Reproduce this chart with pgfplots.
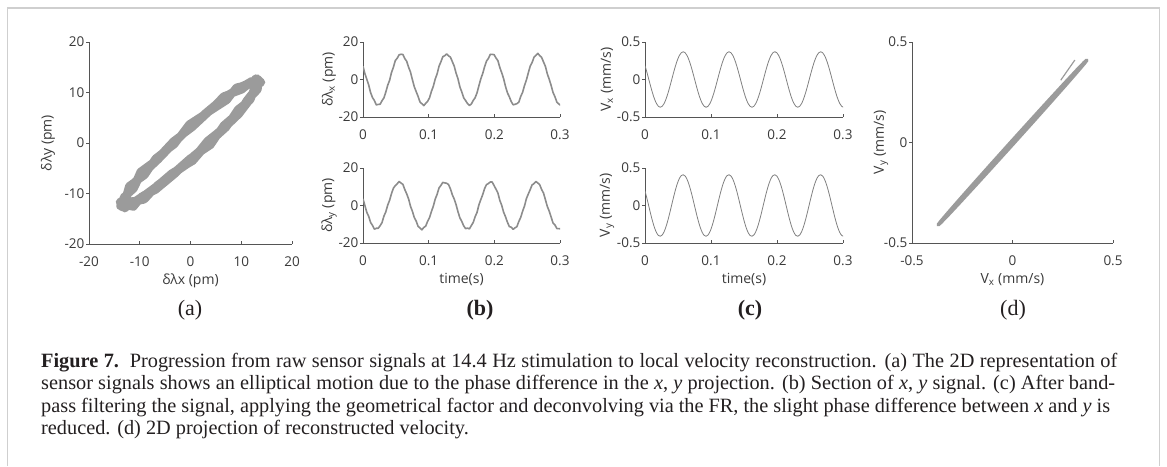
\documentclass[border=0pt]{standalone}
\usepackage{pgfplots}
\pgfplotsset{compat=1.18}
\usepackage{pgfplotstable}
\usepackage{fontspec}
\setmainfont{Liberation Serif}
\newfontfamily\axfont{Open Sans}
\definecolor{axgray}{HTML}{555555}
\definecolor{txtgray}{HTML}{3A3A3A}
\definecolor{datgray}{HTML}{9B9B9B}
\definecolor{framegray}{HTML}{CFCFCF}
\definecolor{captxt}{HTML}{231F20}

\pgfplotstableread{
t dx dy vx vy
0.000000 7.05 3.54 0.1850 0.1957
0.002894 3.09 -0.05 0.0958 0.0958
0.005787 0.15 -3.64 0.0000 -0.0107
0.008681 -2.99 -5.80 -0.0958 -0.1164
0.011574 -7.00 -9.09 -0.1850 -0.2143
0.014468 -9.65 -10.63 -0.2616 -0.2975
0.017361 -11.24 -12.62 -0.3204 -0.3605
0.020255 -13.54 -12.15 -0.3574 -0.3988
0.023148 -13.30 -12.17 -0.3700 -0.4100
0.026042 -13.19 -10.78 -0.3574 -0.3932
0.028935 -11.34 -9.14 -0.3204 -0.3497
0.031829 -9.85 -5.70 -0.2616 -0.2823
0.034722 -6.70 -3.39 -0.1850 -0.1957
0.037616 -3.09 0.20 -0.0958 -0.0958
0.040509 -0.45 2.79 0.0000 0.0107
0.043403 3.74 6.35 0.0958 0.1164
0.046296 6.55 9.24 0.1850 0.2143
0.049190 10.10 10.58 0.2616 0.2975
0.052083 11.34 11.57 0.3204 0.3605
0.054977 13.14 12.80 0.3574 0.3988
0.057870 13.45 11.97 0.3700 0.4100
0.060764 13.34 11.28 0.3574 0.3932
0.063657 11.14 8.49 0.3204 0.3497
0.066551 9.70 6.20 0.2616 0.2823
0.069444 6.55 3.49 0.1850 0.1957
0.072338 3.94 -0.40 0.0958 0.0958
0.075231 -0.10 -3.09 0.0000 -0.0107
0.078125 -3.89 -6.45 -0.0958 -0.1164
0.081018 -6.50 -8.34 -0.1850 -0.2143
0.083912 -9.05 -11.13 -0.2616 -0.2975
0.086805 -11.99 -11.97 -0.3204 -0.3605
0.089699 -12.94 -12.95 -0.3574 -0.3988
0.092592 -13.95 -11.72 -0.3700 -0.4100
0.095486 -12.69 -10.98 -0.3574 -0.3932
0.098379 -11.64 -8.44 -0.3204 -0.3497
0.101273 -9.80 -6.50 -0.2616 -0.2823
0.104166 -6.35 -3.24 -0.1850 -0.1957
0.107060 -3.64 -0.40 -0.0958 -0.0958
0.109953 0.20 3.39 0.0000 0.0107
0.112847 2.99 5.95 0.0958 0.1164
0.115740 7.05 9.34 0.1850 0.2143
0.118634 9.45 10.73 0.2616 0.2975
0.121527 12.14 12.32 0.3204 0.3605
0.124421 12.69 12.05 0.3574 0.3988
0.127314 13.65 11.87 0.3700 0.4100
0.130208 12.64 11.18 0.3574 0.3932
0.133101 11.94 8.89 0.3204 0.3497
0.135995 9.55 5.75 0.2616 0.2823
0.138889 7.15 3.44 0.1850 0.1957
0.141783 3.34 0.40 0.0958 0.0958
0.144676 0.30 -3.39 0.0000 -0.0107
0.147570 -3.99 -6.60 -0.0958 -0.1164
0.150463 -6.65 -8.54 -0.1850 -0.2143
0.153357 -9.80 -10.88 -0.2616 -0.2975
0.156250 -11.24 -12.32 -0.3204 -0.3605
0.159144 -12.84 -12.05 -0.3574 -0.3988
0.162037 -13.85 -12.47 -0.3700 -0.4100
0.164931 -13.09 -10.73 -0.3574 -0.3932
0.167824 -11.19 -9.04 -0.3204 -0.3497
0.170718 -9.75 -6.00 -0.2616 -0.2823
0.173611 -7.15 -3.74 -0.1850 -0.1957
0.176505 -3.34 0.35 -0.0958 -0.0958
0.179398 0.35 3.14 0.0000 0.0107
0.182292 3.19 5.80 0.0958 0.1164
0.185185 6.80 9.04 0.1850 0.2143
0.188079 9.80 11.13 0.2616 0.2975
0.190972 11.24 11.72 0.3204 0.3605
0.193866 13.44 12.55 0.3574 0.3988
0.196759 13.40 12.52 0.3700 0.4100
0.199653 13.24 10.58 0.3574 0.3932
0.202546 11.44 8.69 0.3204 0.3497
0.205440 10.05 6.65 0.2616 0.2823
0.208333 6.40 2.74 0.1850 0.1957
0.211227 3.59 0.10 0.0958 0.0958
0.214120 0.45 -3.54 0.0000 -0.0107
0.217014 -3.69 -6.00 -0.0958 -0.1164
0.219907 -7.05 -8.89 -0.1850 -0.2143
0.222801 -9.20 -11.23 -0.2616 -0.2975
0.225694 -11.74 -11.57 -0.3204 -0.3605
0.228588 -13.49 -12.70 -0.3574 -0.3988
0.231481 -13.25 -11.92 -0.3700 -0.4100
0.234375 -12.89 -11.28 -0.3574 -0.3932
0.237268 -12.09 -8.54 -0.3204 -0.3497
0.240162 -9.05 -6.35 -0.2616 -0.2823
0.243055 -6.85 -3.04 -0.1850 -0.1957
0.245949 -3.19 -0.25 -0.0958 -0.0958
0.248842 -0.25 3.69 0.0000 0.0107
0.251736 3.54 6.15 0.0958 0.1164
0.254629 7.15 8.49 0.1850 0.2143
0.257523 9.05 10.98 0.2616 0.2975
0.260416 11.89 11.67 0.3204 0.3605
0.263310 12.89 12.80 0.3574 0.3988
0.266203 13.95 12.02 0.3700 0.4100
0.269097 12.74 11.08 0.3574 0.3932
0.271990 11.79 8.54 0.3204 0.3497
0.274884 9.35 6.65 0.2616 0.2823
0.277778 7.00 3.09 0.1850 0.1957
0.280672 3.04 -0.50 0.0958 0.0958
0.283565 0.10 -2.99 0.0000 -0.0107
0.286459 -3.14 -6.15 -0.0958 -0.1164
0.289352 -6.90 -9.29 -0.1850 -0.2143
0.292246 -9.15 -10.33 -0.2616 -0.2975
0.295139 -11.99 -12.27 -0.3204 -0.3605
0.298033 -12.99 -12.35 -0.3574 -0.3988
0.300926 -13.75 -12.42 -0.3700 -0.4100
}\sig

\pgfplotsset{
  panel/.style={
    scale only axis,
    axis lines=left,
    axis line style={-, axgray, line width=0.8pt},
    tick align=inside,
    major tick length=3pt,
    tick style={axgray, line width=0.8pt},
    ytick style={xshift=-3pt},
    enlargelimits=false,
    clip=true,
    tick label style={font=\axfont\fontsize{13.5}{15}\selectfont, text=txtgray},
    label style={font=\axfont\fontsize{14}{16}\selectfont, text=txtgray},
    xticklabel style={anchor=center, yshift=-17.5pt},
    yticklabel style={anchor=east, inner sep=0pt, xshift=-4.5pt},
    xlabel style={anchor=center},
    ylabel style={anchor=center},
  },
  tsig/.style={
    xmin=0, xmax=0.3,
    xtick={0,0.1,0.2,0.3}, xticklabels={0,0.1,0.2,0.3},
  },
}

\begin{document}
\begin{tikzpicture}[x=1pt,y=1pt]
\useasboundingbox (0,0) rectangle (1167,466);
\draw[framegray, line width=1.5pt] (7.5,0) -- (7.5,458) -- (1159.5,458) -- (1159.5,0);

% (a)
\begin{axis}[panel, at={(89pt,222pt)}, anchor=south west, width=203pt, height=202pt,
  xmin=-20, xmax=20, ymin=-20, ymax=20,
  xtick={-20,-10,0,10,20}, xticklabels={-20,-10,0,10,20},
  ytick={-20,-10,0,10,20}, yticklabels={-20,-10,0,10,20},
  xlabel={δλx (pm)}, ylabel={δλy (pm)},
  xlabel style={at={(axis description cs:0.5,-0.1807)}},
  ylabel style={at={(axis description cs:-0.2020,0.5)}}]
\addplot[color=datgray, line width=8pt, line join=round, line cap=round] table[x=dx, y=dy] {\sig};
\end{axis}

% (b) top
\begin{axis}[panel, tsig, at={(363pt,349pt)}, anchor=south west, width=197pt, height=75pt,
  ymin=-20, ymax=20, ytick={-20,0,20}, yticklabels={-20,0,20},
  ylabel={δλ\textsubscript{x} (pm)},
  ylabel style={at={(axis description cs:-0.1726,0.5)}}]
\addplot[color=black!45, line width=1.6pt, line join=round] table[x=t, y=dx] {\sig};
\end{axis}
% (b) bottom
\begin{axis}[panel, tsig, at={(363pt,223pt)}, anchor=south west, width=197pt, height=75pt,
  ymin=-20, ymax=20, ytick={-20,0,20}, yticklabels={-20,0,20},
  ylabel={δλ\textsubscript{y} (pm)}, xlabel={time(s)},
  xlabel style={at={(axis description cs:0.5,-0.487)}},
  ylabel style={at={(axis description cs:-0.1726,0.5)}}]
\addplot[color=black!45, line width=1.6pt, line join=round] table[x=t, y=dy] {\sig};
\end{axis}

% (c) top
\begin{axis}[panel, tsig, at={(645pt,349pt)}, anchor=south west, width=198pt, height=75pt,
  ymin=-0.5, ymax=0.5, ytick={-0.5,0,0.5}, yticklabels={-0.5,0,0.5},
  ylabel={V\textsubscript{x} (mm/s)},
  ylabel style={at={(axis description cs:-0.1919,0.5)}}]
\addplot[color=black!50, line width=0.8pt, smooth] table[x=t, y=vx] {\sig};
\end{axis}
% (c) bottom
\begin{axis}[panel, tsig, at={(645pt,223pt)}, anchor=south west, width=198pt, height=75pt,
  ymin=-0.5, ymax=0.5, ytick={-0.5,0,0.5}, yticklabels={-0.5,0,0.5},
  ylabel={V\textsubscript{y} (mm/s)}, xlabel={time(s)},
  xlabel style={at={(axis description cs:0.5,-0.487)}},
  ylabel style={at={(axis description cs:-0.1919,0.5)}}]
\addplot[color=black!50, line width=0.8pt, smooth] table[x=t, y=vy] {\sig};
\end{axis}

% (d)
\begin{axis}[panel, at={(912pt,223pt)}, anchor=south west, width=201pt, height=201pt,
  xmin=-0.5, xmax=0.5, ymin=-0.5, ymax=0.5,
  xtick={-0.5,0,0.5}, xticklabels={-0.5,0,0.5},
  ytick={-0.5,0,0.5}, yticklabels={-0.5,0,0.5},
  xlabel={V\textsubscript{x} (mm/s)}, ylabel={V\textsubscript{y} (mm/s)},
  xlabel style={at={(axis description cs:0.5,-0.1816)}},
  ylabel style={at={(axis description cs:-0.1542,0.5)}}]
\addplot[color=datgray, line width=3.5pt, line join=round, line cap=round] table[x=vx, y=vy] {\sig};
\addplot[color=datgray, line width=1.2pt] coordinates {(0.24,0.31) (0.31,0.41)};
\end{axis}

% panel letters
\node[anchor=base, inner sep=0pt, text=captxt, font=\fontsize{22}{24}\selectfont] at (190,150) {(a)};
\node[anchor=base, inner sep=0pt, text=captxt, font=\fontsize{22}{24}\selectfont\bfseries] at (480,150) {(b)};
\node[anchor=base, inner sep=0pt, text=captxt, font=\fontsize{22}{24}\selectfont\bfseries] at (750,150) {(c)};
\node[anchor=base, inner sep=0pt, text=captxt, font=\fontsize{22}{24}\selectfont] at (1013,150) {(d)};

% caption
\begin{scope}[every node/.style={anchor=base west, inner sep=0pt, text=captxt, font=\fontsize{20.3}{22}\selectfont}]
\node at (41,99) {\hbox to 1076pt{\textbf{Figure 7.}\hskip 0.5em plus 0.2em Progression from raw sensor signals at 14.4 Hz stimulation to local velocity reconstruction. (a) The 2D representation of}};
\node at (41,76.5) {\hbox to 1074pt{sensor signals shows an elliptical motion due to the phase difference in the \textit{x}, \textit{y} projection. (b) Section of \textit{x}, \textit{y} signal. (c) After band-}};
\node at (41,54) {\hbox to 1069pt{pass filtering the signal, applying the geometrical factor and deconvolving via the FR, the slight phase difference between \textit{x} and \textit{y} is}};
\node at (41,31.5) {reduced. (d) 2D projection of reconstructed velocity.};
\end{scope}
\end{tikzpicture}
\end{document}
